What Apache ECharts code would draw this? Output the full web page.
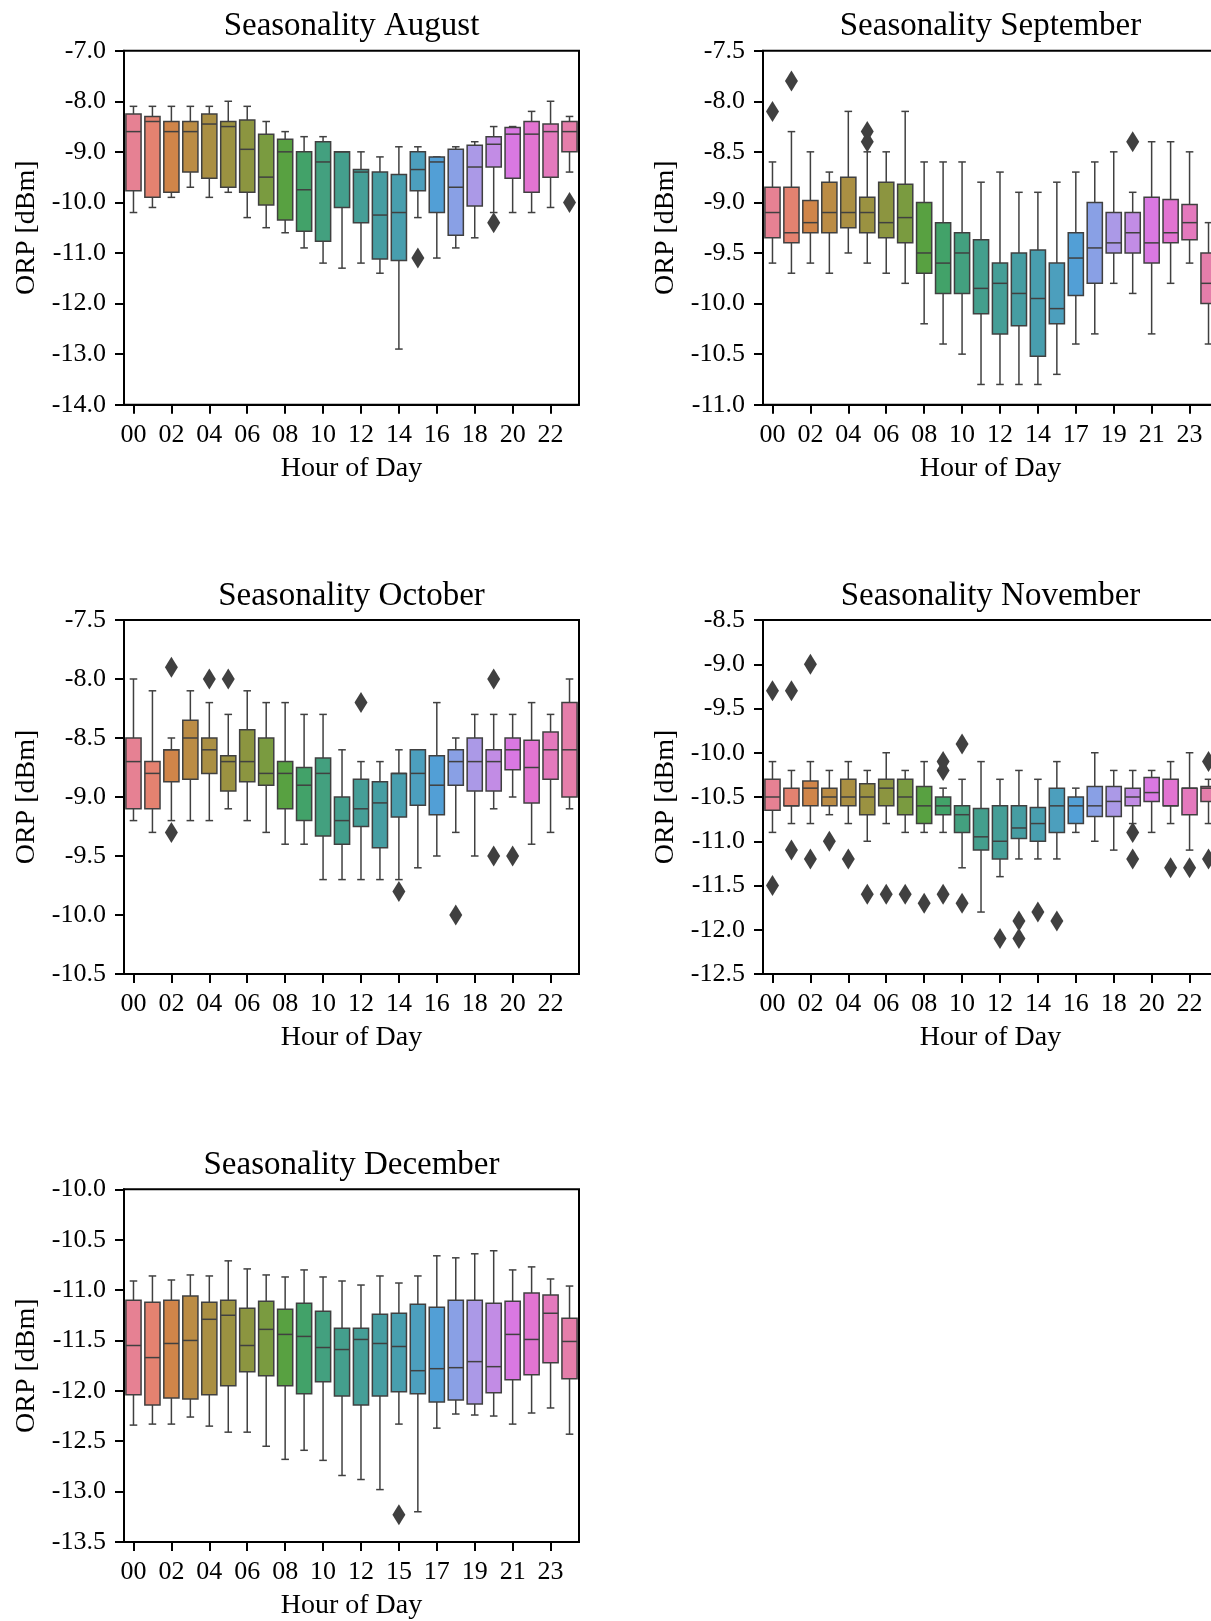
<!DOCTYPE html>
<html>
<head>
<meta charset="utf-8">
<title>ORP seasonality by hour of day</title>
<script src="https://cdn.jsdelivr.net/npm/echarts@6/dist/echarts.min.js"></script>
<style>
  html, body { margin: 0; padding: 0; background: #ffffff; overflow: hidden; }
  /* the right-hand column runs past the page edge and is clipped there */
  #chart { width: 1240px; height: 1621px; }
</style>
</head>
<body>
<div id="chart"></div>
<script>
// ---------- categories ----------
const HOURS = ["00","01","02","03","04","05","06","07","08","09","10","11",
               "12","13","14","15","16","17","18","19","20","21","22","23"];
// hour order follows first appearance in the data for these months
const HOURS_SEP = ["00","01","02","03","04","05","06","07","08","09","10","11",
                   "12","13","14","15","17","18","19","20","21","22","23","16"];
const HOURS_DEC = ["00","01","02","03","04","05","06","07","08","09","10","11",
                   "12","13","15","16","17","18","19","20","21","22","23","14"];

// ---------- August ----------
const AUG_HI  = [-8.1,-8.1,-8.1,-8.1,-8.1,-8.0,-8.1,-8.4,-8.6,-8.7,-8.7,-9.0,-9.0,-9.1,-8.9,-8.9,-9.1,-8.9,-8.8,-8.5,-8.5,-8.2,-8.0,-8.3];
const AUG_Q3  = [-8.25,-8.3,-8.4,-8.4,-8.25,-8.4,-8.37,-8.65,-8.75,-9.0,-8.8,-9.0,-9.35,-9.4,-9.45,-9.0,-9.1,-8.95,-8.87,-8.7,-8.52,-8.4,-8.45,-8.4];
const AUG_MED = [-8.6,-8.4,-8.6,-8.6,-8.45,-8.5,-8.95,-9.5,-9.0,-9.75,-9.2,-9.0,-9.4,-10.25,-10.2,-9.35,-9.2,-9.7,-9.3,-8.85,-8.65,-8.65,-8.6,-8.6];
const AUG_Q1  = [-9.77,-9.9,-9.8,-9.4,-9.52,-9.7,-9.8,-10.05,-10.35,-10.57,-10.77,-10.1,-10.4,-11.12,-11.15,-9.77,-10.2,-10.65,-10.07,-9.3,-9.52,-9.8,-9.5,-9.0];
const AUG_LO  = [-10.2,-10.1,-9.9,-9.7,-9.9,-9.8,-10.3,-10.5,-10.6,-10.9,-11.2,-11.3,-11.2,-11.4,-12.9,-10.3,-11.1,-10.9,-10.7,-10.2,-10.2,-10.2,-10.1,-9.4];
const AUG_OUT = [[15,-11.1],[19,-10.4],[23,-10.0]];

// ---------- September ----------
const SEP_HI  = [-8.6,-8.3,-8.5,-8.7,-8.1,-8.5,-8.5,-8.1,-8.6,-8.6,-8.6,-8.8,-8.7,-8.9,-8.9,-8.8,-8.7,-8.6,-8.5,-8.9,-8.4,-8.4,-8.5,-9.2];
const SEP_Q3  = [-8.85,-8.85,-8.98,-8.8,-8.75,-8.95,-8.8,-8.82,-9.0,-9.2,-9.3,-9.37,-9.6,-9.5,-9.47,-9.6,-9.3,-9.0,-9.1,-9.1,-8.95,-8.97,-9.02,-9.5];
const SEP_MED = [-9.1,-9.3,-9.2,-9.1,-9.1,-9.1,-9.2,-9.15,-9.5,-9.6,-9.5,-9.85,-9.8,-9.9,-9.95,-10.05,-9.55,-9.45,-9.4,-9.3,-9.4,-9.3,-9.2,-9.8];
const SEP_Q1  = [-9.35,-9.4,-9.3,-9.3,-9.25,-9.3,-9.35,-9.4,-9.7,-9.9,-9.9,-10.1,-10.3,-10.22,-10.52,-10.2,-9.92,-9.8,-9.5,-9.5,-9.6,-9.4,-9.37,-10.0];
const SEP_LO  = [-9.6,-9.7,-9.6,-9.7,-9.5,-9.6,-9.7,-9.8,-10.2,-10.4,-10.5,-10.8,-10.8,-10.8,-10.8,-10.7,-10.4,-10.3,-9.8,-9.9,-10.3,-9.8,-9.6,-10.4];
const SEP_OUT = [[0,-8.1],[1,-7.8],[5,-8.3],[5,-8.4],[19,-8.4]];

// ---------- October ----------
const OCT_HI  = [-8.0,-8.1,-8.5,-8.1,-8.2,-8.3,-8.1,-8.2,-8.2,-8.3,-8.3,-8.6,-8.7,-8.7,-8.6,-8.6,-8.2,-8.5,-8.3,-8.3,-8.3,-8.2,-8.3,-8.0];
const OCT_Q3  = [-8.5,-8.7,-8.6,-8.35,-8.5,-8.65,-8.43,-8.5,-8.7,-8.75,-8.67,-9.0,-8.85,-8.87,-8.8,-8.6,-8.65,-8.6,-8.5,-8.6,-8.5,-8.52,-8.45,-8.2];
const OCT_MED = [-8.7,-8.8,-8.6,-8.5,-8.6,-8.7,-8.7,-8.8,-8.8,-8.9,-8.8,-9.2,-9.1,-9.05,-8.8,-8.8,-8.9,-8.7,-8.7,-8.7,-8.6,-8.75,-8.6,-8.6];
const OCT_Q1  = [-9.1,-9.1,-8.87,-8.85,-8.8,-8.95,-8.87,-8.9,-9.1,-9.2,-9.33,-9.4,-9.25,-9.43,-9.17,-9.07,-9.15,-8.9,-8.95,-8.95,-8.77,-9.05,-8.85,-9.0];
const OCT_LO  = [-9.2,-9.3,-9.2,-9.2,-9.2,-9.1,-9.2,-9.3,-9.4,-9.4,-9.7,-9.7,-9.7,-9.7,-9.7,-9.6,-9.5,-9.3,-9.5,-9.1,-9.0,-9.4,-9.3,-9.1];
const OCT_OUT = [[2,-7.9],[2,-9.3],[4,-8.0],[5,-8.0],[12,-8.2],[14,-9.8],[17,-10.0],[19,-8.0],[19,-9.5],[20,-9.5]];

// ---------- November ----------
const NOV_HI  = [-10.1,-10.2,-10.1,-10.2,-10.1,-10.2,-10.0,-10.2,-10.1,-10.4,-10.3,-10.1,-10.3,-10.2,-10.3,-10.1,-10.4,-10.0,-10.2,-10.2,-10.2,-10.1,-10.0,-10.3];
const NOV_Q3  = [-10.3,-10.4,-10.32,-10.4,-10.3,-10.35,-10.3,-10.3,-10.38,-10.5,-10.6,-10.63,-10.6,-10.6,-10.62,-10.4,-10.5,-10.38,-10.38,-10.4,-10.28,-10.3,-10.4,-10.38];
const NOV_MED = [-10.5,-10.6,-10.4,-10.5,-10.5,-10.5,-10.4,-10.5,-10.6,-10.6,-10.7,-10.95,-11.0,-10.85,-10.8,-10.6,-10.6,-10.6,-10.55,-10.5,-10.45,-10.6,-10.4,-10.4];
const NOV_Q1  = [-10.65,-10.6,-10.6,-10.6,-10.6,-10.7,-10.6,-10.7,-10.8,-10.7,-10.9,-11.1,-11.2,-10.97,-11.0,-10.9,-10.8,-10.72,-10.72,-10.6,-10.55,-10.6,-10.7,-10.55];
const NOV_LO  = [-10.9,-10.8,-10.8,-10.7,-10.8,-11.0,-10.8,-10.9,-10.9,-10.9,-11.3,-11.8,-11.4,-11.2,-11.2,-11.2,-10.9,-11.0,-11.1,-10.8,-10.9,-10.8,-11.1,-10.8];
const NOV_OUT = [[0,-9.3],[0,-11.5],[1,-9.3],[1,-11.1],[2,-9.0],[2,-11.2],[3,-11.0],[4,-11.2],
                 [5,-11.6],[6,-11.6],[7,-11.6],[8,-11.7],[9,-10.1],[9,-10.2],[9,-11.6],[10,-9.9],[10,-11.7],
                 [12,-12.1],[13,-11.9],[13,-12.1],[14,-11.8],[15,-11.9],[19,-10.9],[19,-11.2],
                 [21,-11.3],[22,-11.3],[23,-10.1],[23,-11.2]];

// ---------- December ----------
const DEC_HI  = [-10.91,-10.86,-10.9,-10.85,-10.86,-10.71,-10.79,-10.85,-10.87,-10.8,-10.87,-10.91,-10.95,-10.86,-10.93,-10.86,-10.66,-10.68,-10.64,-10.61,-10.8,-10.77,-10.89,-10.96];
const DEC_Q3  = [-11.1,-11.12,-11.1,-11.06,-11.12,-11.1,-11.18,-11.11,-11.19,-11.13,-11.21,-11.38,-11.38,-11.24,-11.23,-11.14,-11.17,-11.1,-11.1,-11.13,-11.11,-11.03,-11.05,-11.28];
const DEC_MED = [-11.55,-11.67,-11.53,-11.5,-11.29,-11.25,-11.55,-11.39,-11.44,-11.46,-11.57,-11.59,-11.49,-11.53,-11.56,-11.8,-11.78,-11.77,-11.71,-11.76,-11.44,-11.49,-11.23,-11.51];
const DEC_Q1  = [-12.04,-12.14,-12.07,-12.08,-12.04,-11.95,-11.81,-11.85,-11.95,-12.03,-11.91,-12.05,-12.14,-12.05,-12.01,-12.03,-12.11,-12.09,-12.13,-12.02,-11.89,-11.84,-11.72,-11.88];
const DEC_LO  = [-12.34,-12.33,-12.33,-12.26,-12.35,-12.41,-12.41,-12.55,-12.68,-12.59,-12.69,-12.84,-12.88,-12.98,-12.33,-13.2,-12.37,-12.23,-12.24,-12.25,-12.33,-12.22,-12.17,-12.43];
const DEC_OUT = [[14,-13.23]];

// ---------- y-axis ranges (min, max, step) ----------
const AUG_Y = [-14.0, -7.0, 1.0];
const SEP_Y = [-11.0, -7.5, 0.5];
const OCT_Y = [-10.5, -7.5, 0.5];
const NOV_Y = [-12.5, -8.5, 0.5];
const DEC_Y = [-13.5, -10.0, 0.5];

const PANELS = [
  { title: "Seasonality August",    hours: HOURS,     y: AUG_Y, hi: AUG_HI, q3: AUG_Q3, med: AUG_MED, q1: AUG_Q1, lo: AUG_LO, out: AUG_OUT },
  { title: "Seasonality September", hours: HOURS_SEP, y: SEP_Y, hi: SEP_HI, q3: SEP_Q3, med: SEP_MED, q1: SEP_Q1, lo: SEP_LO, out: SEP_OUT },
  { title: "Seasonality October",   hours: HOURS,     y: OCT_Y, hi: OCT_HI, q3: OCT_Q3, med: OCT_MED, q1: OCT_Q1, lo: OCT_LO, out: OCT_OUT },
  { title: "Seasonality November",  hours: HOURS,     y: NOV_Y, hi: NOV_HI, q3: NOV_Q3, med: NOV_MED, q1: NOV_Q1, lo: NOV_LO, out: NOV_OUT },
  { title: "Seasonality December",  hours: HOURS_DEC, y: DEC_Y, hi: DEC_HI, q3: DEC_Q3, med: DEC_MED, q1: DEC_Q1, lo: DEC_LO, out: DEC_OUT }
];

// ---------- HUSL palette (24 hues), desaturated for box faces ----------
const HM = [[3.2406, -1.5372, -0.4986], [-0.9689, 1.8758, 0.0415], [0.0557, -0.2040, 1.0570]];
function maxChroma(L, H) {
  const hr = H * Math.PI / 180, sinH = Math.sin(hr), cosH = Math.cos(hr);
  const sub1 = Math.pow(L + 16, 3) / 1560896.0;
  const sub2 = sub1 > 0.008856 ? sub1 : L / 903.3;
  let result = Infinity;
  for (const [m1, m2, m3] of HM) {
    const top = (0.99915 * m1 + 1.05122 * m2 + 1.14460 * m3) * sub2;
    const rb = 0.86330 * m3 - 0.17266 * m2;
    const lb = 0.12949 * m3 - 0.38848 * m1;
    const bottom = (rb * sinH + lb * cosH) * sub2;
    for (const t of [0, 1]) {
      const C = L * (top - 1.05122 * t) / (bottom + 0.17266 * sinH * t);
      if (C > 0 && C < result) result = C;
    }
  }
  return result;
}
function huslToRgb(H, S, L) {
  const C = maxChroma(L, H) / 100 * S;
  const hr = H * Math.PI / 180;
  const U = Math.cos(hr) * C, V = Math.sin(hr) * C;
  const refU = 0.19784, refV = 0.46834;
  const t = (L + 16) / 116;
  const Y = Math.pow(t, 3) > 0.008856 ? Math.pow(t, 3) : (116 * t - 16) / 903.3;
  const vU = U / (13 * L) + refU, vV = V / (13 * L) + refV;
  const X = -(9 * Y * vU) / ((vU - 4) * vV - vU * vV);
  const Z = (9 * Y - 15 * vV * Y - vV * X) / (3 * vV);
  return HM.map(r => {
    const c = r[0] * X + r[1] * Y + r[2] * Z;
    const v = c <= 0.0031308 ? 12.92 * c : 1.055 * Math.pow(c, 1 / 2.4) - 0.055;
    return Math.min(1, Math.max(0, v));
  });
}
function rgbToHls(r, g, b) {
  const mx = Math.max(r, g, b), mn = Math.min(r, g, b);
  const l = (mx + mn) / 2;
  if (mx === mn) return [0, l, 0];
  const s = l <= 0.5 ? (mx - mn) / (mx + mn) : (mx - mn) / (2 - mx - mn);
  const rc = (mx - r) / (mx - mn), gc = (mx - g) / (mx - mn), bc = (mx - b) / (mx - mn);
  let h;
  if (r === mx) h = bc - gc; else if (g === mx) h = 2 + rc - bc; else h = 4 + gc - rc;
  h = ((h / 6) % 1 + 1) % 1;
  return [h, l, s];
}
function hlsToRgb(h, l, s) {
  if (s === 0) return [l, l, l];
  const m2 = l <= 0.5 ? l * (1 + s) : l + s - l * s;
  const m1 = 2 * l - m2;
  const v = hue => {
    hue = ((hue % 1) + 1) % 1;
    if (hue < 1 / 6) return m1 + (m2 - m1) * hue * 6;
    if (hue < 0.5) return m2;
    if (hue < 2 / 3) return m1 + (m2 - m1) * (2 / 3 - hue) * 6;
    return m1;
  };
  return [v(h + 1 / 3), v(h), v(h - 1 / 3)];
}
const toHex = c => '#' + c.map(v => Math.round(v * 255).toString(16).padStart(2, '0')).join('');

const N_COLORS = 24;
const FACES = [];
let minLight = 1;
for (let i = 0; i < N_COLORS; i++) {
  const hue = ((i / N_COLORS + 0.01) % 1) * 359;
  const rgb = huslToRgb(hue, 0.9 * 99, 0.65 * 99);
  const [h, l, s] = rgbToHls(...rgb);
  const d = hlsToRgb(h, l, s * 0.75);
  minLight = Math.min(minLight, rgbToHls(...d)[1]);
  FACES.push(toHex(d));
}
const LUM = minLight * 0.6;
const GRAY = toHex([LUM, LUM, LUM]);

// ---------- layout ----------
const FONT = '"Liberation Serif", "Times New Roman", serif';
const COL_LEFT = [124, 763];
const ROW_TOP = [50.7, 620, 1189.3];
const PLOT_W = 455, PLOT_H = 354;

function renderBox(params, api) {
  const idx = api.value(0);
  const pLo = api.coord([idx, api.value(1)]);
  const pQ1 = api.coord([idx, api.value(2)]);
  const pMd = api.coord([idx, api.value(3)]);
  const pQ3 = api.coord([idx, api.value(4)]);
  const pHi = api.coord([idx, api.value(5)]);
  const band = api.size([1, 0])[0];
  const bw = band * 0.8, cw = bw * 0.5, cx = pQ1[0];
  const ln = { stroke: GRAY, lineWidth: 1.5 };
  return {
    type: 'group',
    children: [
      { type: 'line', shape: { x1: cx, y1: pQ3[1], x2: cx, y2: pHi[1] }, style: ln },
      { type: 'line', shape: { x1: cx, y1: pQ1[1], x2: cx, y2: pLo[1] }, style: ln },
      { type: 'line', shape: { x1: cx - cw / 2, y1: pHi[1], x2: cx + cw / 2, y2: pHi[1] }, style: ln },
      { type: 'line', shape: { x1: cx - cw / 2, y1: pLo[1], x2: cx + cw / 2, y2: pLo[1] }, style: ln },
      { type: 'rect', shape: { x: cx - bw / 2, y: pQ3[1], width: bw, height: pQ1[1] - pQ3[1] },
        style: { fill: FACES[idx], stroke: GRAY, lineWidth: 1.5 } },
      { type: 'line', shape: { x1: cx - bw / 2, y1: pMd[1], x2: cx + bw / 2, y2: pMd[1] }, style: ln }
    ]
  };
}

const option = {
  backgroundColor: '#ffffff',
  animation: false,
  title: [], grid: [], xAxis: [], yAxis: [], series: []
};

PANELS.forEach((p, k) => {
  const left = COL_LEFT[k % 2];
  const top = ROW_TOP[Math.floor(k / 2)];
  option.title.push({
    text: p.title,
    left: left + PLOT_W / 2,
    top: top - 42,
    textAlign: 'center',
    padding: 0,
    textStyle: { fontFamily: FONT, fontSize: 33, fontWeight: 'normal', color: '#000', lineHeight: 36 }
  });
  option.grid.push({
    left: left, top: top, width: PLOT_W, height: PLOT_H,
    show: true, borderColor: '#000', borderWidth: 2, backgroundColor: 'transparent'
  });
  option.xAxis.push({
    type: 'category', gridIndex: k, data: p.hours, boundaryGap: true,
    name: 'Hour of Day', nameLocation: 'middle', nameGap: 50,
    nameTextStyle: { fontFamily: FONT, fontSize: 28, color: '#000' },
    axisLine: { show: true, lineStyle: { color: '#000', width: 2 } },
    axisTick: { show: true, alignWithLabel: true, interval: 1, length: 9, lineStyle: { color: '#000', width: 2 } },
    axisLabel: { interval: 1, fontFamily: FONT, fontSize: 26, color: '#000', margin: 17 },
    splitLine: { show: false }
  });
  option.yAxis.push({
    type: 'value', gridIndex: k, min: p.y[0], max: p.y[1], interval: p.y[2],
    name: 'ORP [dBm]', nameLocation: 'middle', nameGap: 83,
    nameTextStyle: { fontFamily: FONT, fontSize: 28, color: '#000' },
    axisLine: { show: true, lineStyle: { color: '#000', width: 2 } },
    axisTick: { show: true, length: 9, lineStyle: { color: '#000', width: 2 } },
    axisLabel: { fontFamily: FONT, fontSize: 26, color: '#000', margin: 18,
                 formatter: v => v.toFixed(1) },
    splitLine: { show: false }
  });
  option.series.push({
    type: 'custom', xAxisIndex: k, yAxisIndex: k,
    renderItem: renderBox,
    encode: { x: 0, y: [1, 2, 3, 4, 5] },
    data: p.hours.map((_, i) => [i, p.lo[i], p.q1[i], p.med[i], p.q3[i], p.hi[i]]),
    z: 2
  });
  option.series.push({
    type: 'scatter', xAxisIndex: k, yAxisIndex: k,
    symbol: 'diamond', symbolSize: [13, 21],
    itemStyle: { color: GRAY, opacity: 1 },
    data: p.out,
    z: 3
  });
});

const chart = echarts.init(document.getElementById('chart'), null, { renderer: 'canvas' });
chart.setOption(option);
</script>
</body>
</html>
